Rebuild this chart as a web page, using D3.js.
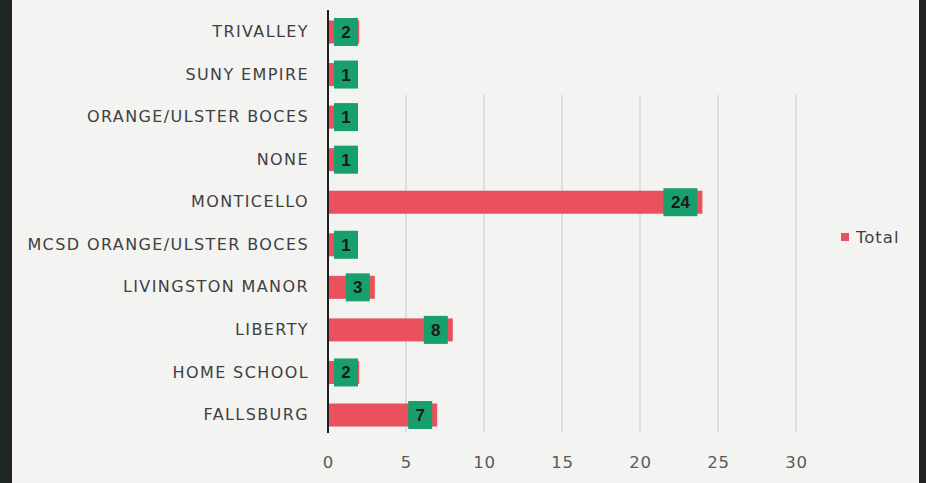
<!DOCTYPE html>
<html>
<head>
<meta charset="utf-8">
<script src="https://cdn.jsdelivr.net/npm/d3@7"></script>
<style>
  body { margin: 0; background: #f3f3f2; }
  svg { display: block; font-family: "DejaVu Sans", sans-serif; }
</style>
</head>
<body>
<svg id="chart" width="926" height="483"></svg>
<script>
const categories = ['TRIVALLEY', 'SUNY EMPIRE', 'ORANGE/ULSTER BOCES', 'NONE', 'MONTICELLO',
  'MCSD ORANGE/ULSTER BOCES', 'LIVINGSTON MANOR', 'LIBERTY', 'HOME SCHOOL', 'FALLSBURG'];
const totals = [2, 1, 1, 1, 24, 1, 3, 8, 2, 7];
const ticks = [0, 5, 10, 15, 20, 25, 30];
const seriesName = 'Total';

const data = categories.map((name, i) => ({name, value: totals[i]}));

const svg = d3.select('#chart');
const W = 926, H = 483;
const font = '"DejaVu Sans", sans-serif';

// photo-ish frame
svg.append('rect').attr('width', W).attr('height', H).attr('fill', '#f3f3f2');
svg.append('rect').attr('x', 0).attr('width', 12).attr('height', H).attr('fill', '#1d2622');
svg.append('rect').attr('x', 919).attr('width', 7).attr('height', H).attr('fill', '#1f2321');

const x = d3.scaleLinear().domain([0, 30]).range([328, 796]);
const y = d3.scaleBand().domain(categories).range([10.7, 436.3]).paddingInner(0.48).paddingOuter(0.24);

// gridlines
svg.append('g')
  .selectAll('line')
  .data(ticks.filter(t => t > 0))
  .join('line')
  .attr('x1', d => x(d)).attr('x2', d => x(d))
  .attr('y1', 95).attr('y2', 432)
  .attr('stroke', '#c9c9c9').attr('stroke-width', 1);

// x tick labels
const xAxis = d3.axisBottom(x).tickValues(ticks).tickSize(0).tickPadding(0);
svg.append('g')
  .attr('transform', 'translate(0,456)')
  .call(xAxis)
  .call(g => g.select('.domain').remove())
  .selectAll('text')
  .attr('font-size', 16.5)
  .attr('font-family', font)
  .attr('letter-spacing', 0.8)
  .attr('fill', '#5a5a5a');

// category labels
const yAxis = d3.axisLeft(y).tickSize(0).tickPadding(19);
svg.append('g')
  .attr('transform', `translate(${x(0)},0)`)
  .call(yAxis)
  .call(g => g.select('.domain').remove())
  .selectAll('text')
  .attr('font-size', 16)
  .attr('font-family', font)
  .attr('letter-spacing', 1.4)
  .attr('fill', '#3f3f3f');

// bars
const barH = 23;
svg.append('g')
  .selectAll('rect')
  .data(data)
  .join('rect')
  .attr('x', x(0))
  .attr('y', d => y(d.name) + y.bandwidth() / 2 - barH / 2)
  .attr('width', d => x(d.value) - x(0))
  .attr('height', barH)
  .attr('fill', '#e9525c');

// axis line
svg.append('line')
  .attr('x1', x(0)).attr('x2', x(0))
  .attr('y1', 10).attr('y2', 433)
  .attr('stroke', '#1f1f1f').attr('stroke-width', 2);

// data labels
const boxH = 28;
const boxW = d => String(d.value).length > 1 ? 34 : 24;
const lab = svg.append('g')
  .selectAll('g')
  .data(data)
  .join('g')
  .attr('transform', d => {
    const right = Math.max(x(d.value) - 5, x(0) + 30);
    return `translate(${right - boxW(d)},${y(d.name) + y.bandwidth() / 2 - boxH / 2})`;
  });
lab.append('rect')
  .attr('width', boxW).attr('height', boxH)
  .attr('fill', '#17a06e');
lab.append('text')
  .attr('x', d => boxW(d) / 2).attr('y', boxH / 2 + 6)
  .attr('text-anchor', 'middle')
  .attr('font-size', 17).attr('font-weight', 'bold')
  .attr('font-family', '"Liberation Sans", Arial, sans-serif')
  .attr('fill', '#1a1a1a')
  .text(d => d.value);

// legend
const leg = svg.append('g').attr('transform', 'translate(841,233)');
leg.append('rect').attr('width', 8).attr('height', 8).attr('fill', '#e9525c');
leg.append('text')
  .attr('x', 15).attr('y', 10)
  .attr('font-size', 16.5)
  .attr('font-family', font)
  .attr('letter-spacing', 1)
  .attr('fill', '#3f3f3f')
  .text(seriesName);
</script>
</body>
</html>
